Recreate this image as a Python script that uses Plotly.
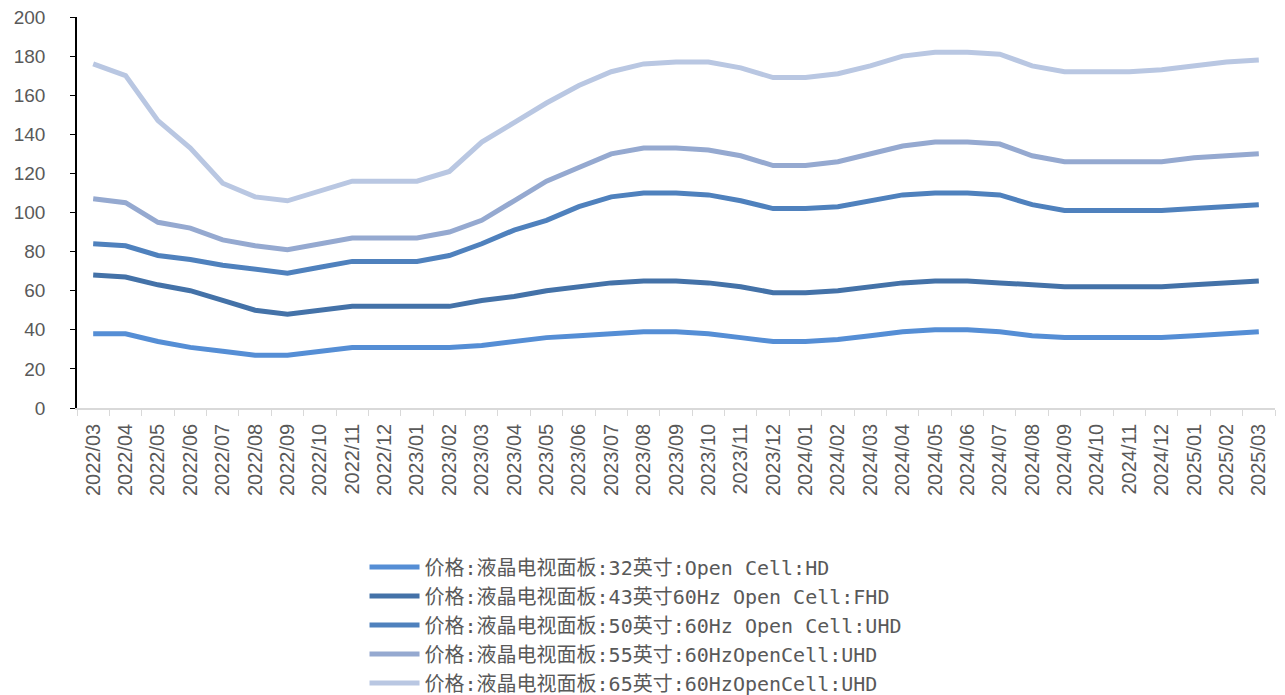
import plotly.graph_objects as go

# Monthly categories 2022/03 – 2025/03
months = [
    "2022/03", "2022/04", "2022/05", "2022/06", "2022/07", "2022/08", "2022/09",
    "2022/10", "2022/11", "2022/12",
    "2023/01", "2023/02", "2023/03", "2023/04", "2023/05", "2023/06", "2023/07",
    "2023/08", "2023/09", "2023/10", "2023/11", "2023/12",
    "2024/01", "2024/02", "2024/03", "2024/04", "2024/05", "2024/06", "2024/07",
    "2024/08", "2024/09", "2024/10", "2024/11", "2024/12",
    "2025/01", "2025/02", "2025/03",
]

# Panel prices (USD/piece)
price_32 = [38, 38, 34, 31, 29, 27, 27, 29, 31, 31, 31, 31, 32, 34, 36, 37, 38, 39, 39,
            38, 36, 34, 34, 35, 37, 39, 40, 40, 39, 37, 36, 36, 36, 36, 37, 38, 39]
price_43 = [68, 67, 63, 60, 55, 50, 48, 50, 52, 52, 52, 52, 55, 57, 60, 62, 64, 65, 65,
            64, 62, 59, 59, 60, 62, 64, 65, 65, 64, 63, 62, 62, 62, 62, 63, 64, 65]
price_50 = [84, 83, 78, 76, 73, 71, 69, 72, 75, 75, 75, 78, 84, 91, 96, 103, 108, 110, 110,
            109, 106, 102, 102, 103, 106, 109, 110, 110, 109, 104, 101, 101, 101, 101, 102, 103, 104]
price_55 = [107, 105, 95, 92, 86, 83, 81, 84, 87, 87, 87, 90, 96, 106, 116, 123, 130, 133, 133,
            132, 129, 124, 124, 126, 130, 134, 136, 136, 135, 129, 126, 126, 126, 126, 128, 129, 130]
price_65 = [176, 170, 147, 133, 115, 108, 106, 111, 116, 116, 116, 121, 136, 146, 156, 165, 172, 176, 177,
            177, 174, 169, 169, 171, 175, 180, 182, 182, 181, 175, 172, 172, 172, 173, 175, 177, 178]

series_names = [
    "价格:液晶电视面板:32英寸:Open Cell:HD",
    "价格:液晶电视面板:43英寸60Hz Open Cell:FHD",
    "价格:液晶电视面板:50英寸:60Hz Open Cell:UHD",
    "价格:液晶电视面板:55英寸:60HzOpenCell:UHD",
    "价格:液晶电视面板:65英寸:60HzOpenCell:UHD",
]
series_values = [price_32, price_43, price_50, price_55, price_65]
series_colors = ["#558ED5", "#4472A8", "#4F81BD", "#95A9D0", "#B9C7E2"]

fig = go.Figure()
for name, vals, color in zip(series_names, series_values, series_colors):
    fig.add_trace(go.Scatter(
        x=months, y=vals, name=name, mode="lines",
        line=dict(color=color, width=5),
    ))

fig.update_layout(
    width=1285, height=695,
    margin=dict(l=77, r=10, t=17, b=287, autoexpand=False),
    paper_bgcolor="white", plot_bgcolor="white",
    showlegend=True,
    legend=dict(
        x=0.24, xanchor="left", y=-0.357, yanchor="top",
        font=dict(family="DejaVu Sans Mono, Noto Sans CJK SC, monospace", size=20, color="#595959"),
        itemwidth=50, tracegroupgap=0, bgcolor="rgba(0,0,0,0)",
    ),
    xaxis=dict(
        type="category", range=[-0.5, 36.5],
        tickson="boundaries", ticks="outside", ticklen=6, tickcolor="#D9D9D9",
        showline=True, linecolor="#D9D9D9", linewidth=1.5,
        showgrid=False, tickangle=-90, ticklabelstandoff=6,
        tickfont=dict(family="Liberation Sans, Arial, sans-serif", size=20, color="#595959"),
    ),
    yaxis=dict(
        range=[0, 200], dtick=20,
        ticks="outside", ticklen=5, tickcolor="black",
        showline=True, linecolor="black", linewidth=1.5,
        showgrid=False, zeroline=False, ticklabelstandoff=21,
        tickfont=dict(family="Liberation Sans, Arial, sans-serif", size=19, color="#595959"),
    ),
)

fig.write_html("out.html")
